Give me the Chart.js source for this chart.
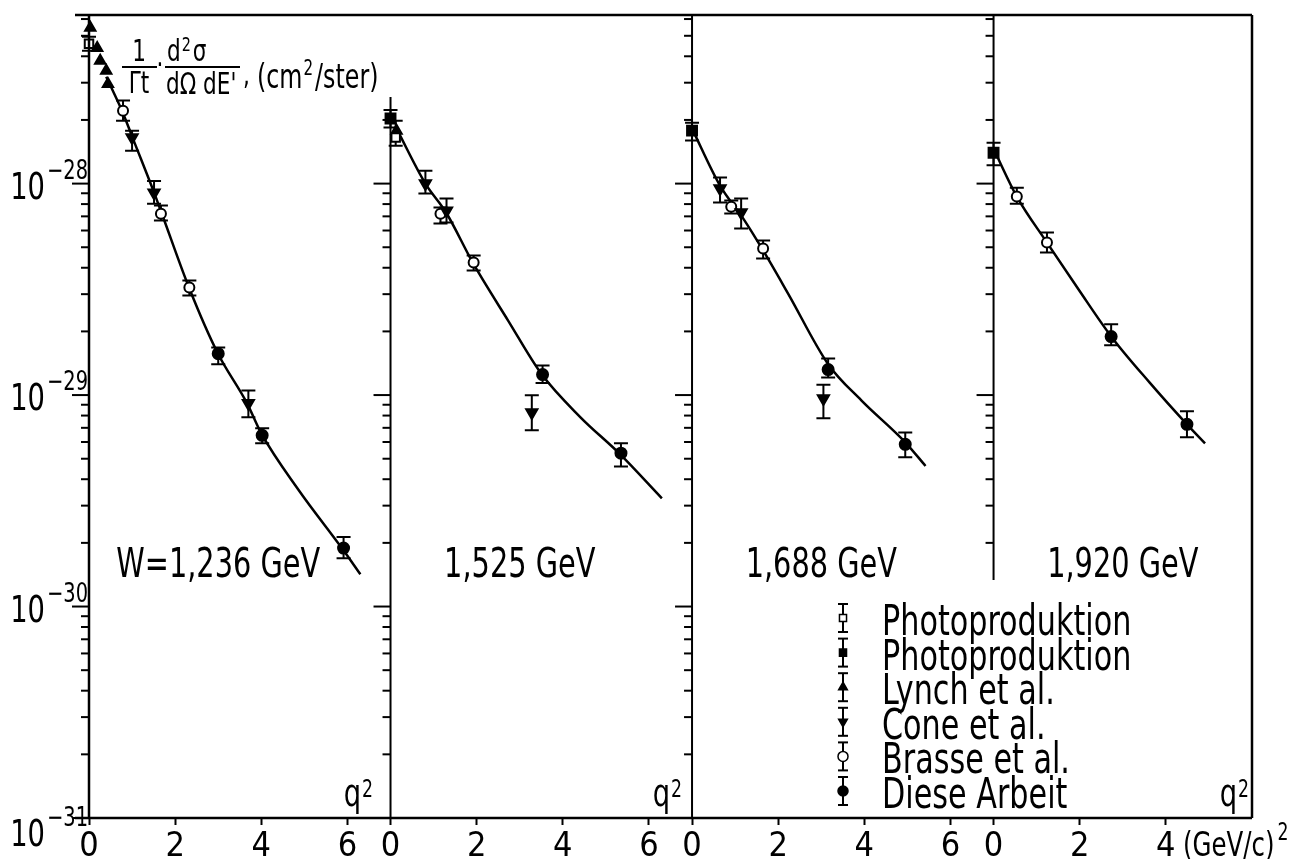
<!DOCTYPE html>
<html>
<head>
<meta charset="utf-8">
<script src="https://cdn.jsdelivr.net/npm/chart.js@4.4.1/dist/chart.umd.min.js"></script>
<style>
  html, body { margin: 0; padding: 0; background: #fff; }
  #wrap { width: 1300px; height: 859px; }
</style>
</head>
<body>
<div id="wrap"><canvas id="chart" width="1300" height="859"></canvas></div>
<script>
// ---- data ---------------------------------------------------------------
var panelLabels = ['W=1,236 GeV', '1,525 GeV', '1,688 GeV', '1,920 GeV'];
var panelMaxQ2 = [7, 7, 7, 6];
var xTickStep = 2;
var yMin = 1e-31, yMax = 6.27e-28;
var yLabelExponents = [-28, -29, -30, -31];
var seriesNames = ['Photoproduktion', 'Photoproduktion', 'Lynch et al.', 'Cone et al.', 'Brasse et al.', 'Diese Arbeit'];
var seriesKeys = ['photoOpen', 'photoFilled', 'lynch', 'cone', 'brasse', 'diese'];

// points: [q2, value, errLow, errHigh]
// W = 1,236 GeV
var p1PhotoOpen = [[0.0, 4.58e-28, 4.25e-28, 4.95e-28]];
var p1Lynch = [[0.03, 5.46e-28], [0.19, 4.38e-28], [0.26, 3.81e-28], [0.40, 3.42e-28], [0.44, 2.96e-28]];
var p1Cone = [[1.0, 1.65e-28, 1.43e-28, 1.78e-28], [1.51, 9.06e-29, 8.04e-29, 1.03e-28], [3.70, 9.14e-30, 7.85e-30, 1.05e-29]];
var p1Brasse = [[0.79, 2.21e-28, 1.98e-28, 2.47e-28], [1.67, 7.21e-29, 6.69e-29, 7.87e-29], [2.33, 3.23e-29, 2.96e-29, 3.48e-29]];
var p1Diese = [[3.0, 1.57e-29, 1.40e-29, 1.68e-29], [4.02, 6.45e-30, 5.91e-30, 6.96e-30], [5.91, 1.89e-30, 1.69e-30, 2.13e-30]];
var p1Fit = [[0.40, 3.2e-28], [0.785, 2.165e-28], [1.02, 1.632e-28], [1.52, 8.97e-29], [1.69, 7.22e-29], [2.33, 3.19e-29],
             [2.98, 1.59e-29], [3.67, 9.14e-30], [4.0, 6.59e-30], [4.87, 3.55e-30], [5.87, 1.89e-30], [6.30, 1.42e-30]];

// W = 1,525 GeV
var p2PhotoOpen = [[0.12, 1.65e-28, 1.51e-28, 1.98e-28]];
var p2PhotoFilled = [[0.0, 2.03e-28, 1.84e-28, 2.23e-28]];
var p2Lynch = [[0.14, 1.78e-28]];
var p2Cone = [[0.81, 1.0e-28, 8.97e-29, 1.15e-28], [1.30, 7.45e-29, 6.54e-29, 8.50e-29], [3.28, 8.28e-30, 6.81e-30, 9.97e-30]];
var p2Brasse = [[1.16, 7.21e-29, 6.47e-29, 7.70e-29], [1.93, 4.24e-29, 3.88e-29, 4.57e-29]];
var p2Diese = [[3.53, 1.25e-29, 1.14e-29, 1.38e-29], [5.35, 5.31e-30, 4.60e-30, 5.91e-30]];
var p2Fit = [[0.14, 1.82e-28], [0.81, 1.0e-28], [1.29, 7.30e-29], [1.92, 4.19e-29], [2.73, 2.25e-29], [3.51, 1.253e-29],
             [4.41, 7.85e-30], [5.31, 5.30e-30], [6.30, 3.25e-30]];

// W = 1,688 GeV
var p3PhotoFilled = [[0.0, 1.78e-28, 1.60e-28, 1.94e-28]];
var p3Cone = [[0.65, 9.47e-29, 8.13e-29, 1.07e-28], [1.14, 7.30e-29, 6.13e-29, 8.50e-29], [3.05, 9.64e-30, 7.76e-30, 1.12e-29]];
var p3Brasse = [[0.91, 7.78e-29, 7.22e-29, 8.31e-29], [1.65, 4.93e-29, 4.42e-29, 5.38e-29]];
var p3Diese = [[3.16, 1.32e-29, 1.21e-29, 1.49e-29], [4.95, 5.85e-30, 5.08e-30, 6.66e-30]];
var p3Fit = [[0.0, 1.82e-28], [0.65, 9.78e-29], [1.19, 6.83e-29], [1.65, 4.83e-29], [2.23, 3.02e-29], [3.16, 1.40e-29],
             [3.93, 9.44e-30], [4.95, 5.98e-30], [5.42, 4.62e-30]];

// W = 1,920 GeV
var p4PhotoFilled = [[0.0, 1.40e-28, 1.22e-28, 1.56e-28]];
var p4Brasse = [[0.54, 8.69e-29, 8.04e-29, 9.57e-29], [1.24, 5.26e-29, 4.72e-29, 5.87e-29]];
var p4Diese = [[2.73, 1.89e-29, 1.72e-29, 2.16e-29], [4.49, 7.27e-30, 6.31e-30, 8.38e-30]];
var p4Fit = [[0.0, 1.46e-28], [0.54, 8.68e-29], [1.24, 5.26e-29], [1.99, 3.12e-29], [2.73, 1.894e-29], [3.62, 1.148e-29],
             [4.49, 7.27e-30], [4.91, 5.91e-30]];

// ---- styles -------------------------------------------------------------
var FONT = '"Liberation Sans Narrow", "DejaVu Sans Condensed", "Arial Narrow", sans-serif';
var SQUEEZE = 0.8;   // the original lettering is a narrow DIN face
var markers = {
  photoOpen:   { pointStyle: 'rect',     rotation: 0,   radius: 6,   fill: '#fff' },
  photoFilled: { pointStyle: 'rect',     rotation: 0,   radius: 7,   fill: '#000' },
  lynch:       { pointStyle: 'triangle', rotation: 0,   radius: 6,   fill: '#000' },
  cone:        { pointStyle: 'triangle', rotation: 180, radius: 6.5, fill: '#000' },
  brasse:      { pointStyle: 'circle',   rotation: 0,   radius: 5,   fill: '#fff' },
  diese:       { pointStyle: 'circle',   rotation: 0,   radius: 5.5, fill: '#000' }
};

var panels = [
  { fit: p1Fit, series: { photoOpen: p1PhotoOpen, lynch: p1Lynch, cone: p1Cone, brasse: p1Brasse, diese: p1Diese } },
  { fit: p2Fit, series: { photoOpen: p2PhotoOpen, photoFilled: p2PhotoFilled, lynch: p2Lynch, cone: p2Cone, brasse: p2Brasse, diese: p2Diese } },
  { fit: p3Fit, series: { photoFilled: p3PhotoFilled, cone: p3Cone, brasse: p3Brasse, diese: p3Diese } },
  { fit: p4Fit, series: { photoFilled: p4PhotoFilled, brasse: p4Brasse, diese: p4Diese } }
];

function toPoints(arr) {
  return arr.map(function (p) { return { x: p[0], y: p[1], lo: p[2], hi: p[3] }; });
}

var datasets = [];
panels.forEach(function (panel, i) {
  var axis = 'x' + (i + 1);
  datasets.push({
    label: 'fit ' + panelLabels[i],
    xAxisID: axis, yAxisID: 'y',
    data: toPoints(panel.fit),
    showLine: true, pointRadius: 0, borderColor: '#000', borderWidth: 2.5,
    cubicInterpolationMode: 'monotone', order: 10
  });
  seriesKeys.forEach(function (key) {
    if (!panel.series[key]) return;
    var m = markers[key];
    datasets.push({
      label: key,
      xAxisID: axis, yAxisID: 'y',
      data: toPoints(panel.series[key]),
      errorBars: true, clip: false,
      pointStyle: m.pointStyle, rotation: m.rotation, pointRadius: m.radius,
      backgroundColor: m.fill, borderColor: '#000', borderWidth: 2,
      order: 0
    });
  });
});

function xAxis(i) {
  return {
    type: 'linear', position: 'bottom', stack: 'q2', stackWeight: panelMaxQ2[i],
    min: 0, max: panelMaxQ2[i],
    grid: { drawOnChartArea: false, drawTicks: true, tickLength: 7, tickColor: '#000', tickWidth: 2 },
    border: { display: false },
    ticks: { stepSize: xTickStep, includeBounds: false, autoSkip: false, maxRotation: 0,
             color: '#000', padding: 2, font: { family: FONT, size: 34 } },
    afterBuildTicks: function (s) { s.ticks = s.ticks.filter(function (t) { return t.value < s.max; }); },
    afterFit: function (s) { s.height = 41; }
  };
}

// ---- plugins ------------------------------------------------------------
var errorBarPlugin = {
  id: 'errorBars',
  beforeDatasetsDraw: function (chart) {
    var ctx = chart.ctx, y = chart.scales.y;
    ctx.save();
    ctx.strokeStyle = '#000';
    ctx.lineWidth = 2;
    chart.data.datasets.forEach(function (ds, i) {
      if (!ds.errorBars) return;
      chart.getDatasetMeta(i).data.forEach(function (el, j) {
        var d = ds.data[j];
        if (d.lo == null) return;
        var y1 = y.getPixelForValue(d.lo), y2 = y.getPixelForValue(d.hi);
        ctx.beginPath();
        ctx.moveTo(el.x, y1); ctx.lineTo(el.x, y2);
        ctx.moveTo(el.x - 7, y1); ctx.lineTo(el.x + 7, y1);
        ctx.moveTo(el.x - 7, y2); ctx.lineTo(el.x + 7, y2);
        ctx.stroke();
      });
    });
    ctx.restore();
  }
};

// draws squeezed text, returns its drawn width
function text(ctx, str, x, y, size, align) {
  ctx.save();
  ctx.font = size + 'px ' + FONT;
  ctx.textAlign = align || 'left';
  ctx.textBaseline = 'alphabetic';
  ctx.translate(x, y);
  ctx.scale(SQUEEZE, 1);
  ctx.fillText(str, 0, 0);
  var w = ctx.measureText(str).width * SQUEEZE;
  ctx.restore();
  return w;
}

function seg(ctx, x1, y1, x2, y2) {
  ctx.beginPath(); ctx.moveTo(x1, y1); ctx.lineTo(x2, y2); ctx.stroke();
}

var decorPlugin = {
  id: 'decor',
  afterDraw: function (chart) {
    var ctx = chart.ctx, ca = chart.chartArea, y = chart.scales.y;
    var xs = [chart.scales.x1, chart.scales.x2, chart.scales.x3, chart.scales.x4];
    ctx.save();
    ctx.strokeStyle = '#000';
    ctx.fillStyle = '#000';
    ctx.lineCap = 'butt';

    // frame and panel axes
    ctx.lineWidth = 2.5;
    seg(ctx, 75, ca.top, ca.right, ca.top);
    seg(ctx, ca.right, ca.top, ca.right, ca.bottom);
    seg(ctx, 75, ca.bottom, ca.right, ca.bottom);
    seg(ctx, xs[0].left, ca.top, xs[0].left, ca.bottom);
    var axisTop = [ca.top, 97, ca.top, ca.top];
    var axisBottom = [ca.bottom, ca.bottom, ca.bottom, 580];
    ctx.lineWidth = 2;
    for (var k = 1; k < 4; k++) seg(ctx, xs[k].left, axisTop[k], xs[k].left, axisBottom[k]);

    // log ticks on every panel axis
    var e0 = Math.floor(Math.log10(y.min)), e1 = Math.ceil(Math.log10(y.max));
    for (k = 0; k < 4; k++) {
      for (var e = e0; e <= e1; e++) {
        for (var m = 1; m <= 9; m++) {
          var v = m * Math.pow(10, e);
          if (v < y.min * 0.999 || v > y.max) continue;
          var py = y.getPixelForValue(v);
          if (py < axisTop[k] || py > axisBottom[k]) continue;
          var len = m === 1 ? 17 : 8;
          seg(ctx, xs[k].left - len, py, xs[k].left, py);
        }
      }
    }

    // decade labels
    yLabelExponents.forEach(function (ex) {
      var py = y.getPixelForValue(Math.pow(10, ex));
      var base = ex === -31 ? py + 28 : py + 15;
      text(ctx, '10', 45, base, 38, 'right');
      text(ctx, '\u2212' + (-ex), 47, base - 20, 27, 'left');
    });

    // panel labels
    panelLabels.forEach(function (lab, i) {
      text(ctx, lab, xs[i].getPixelForValue(3), 577, 40, 'center');
    });

    // q^2 labels
    [[0, 373], [1, 682], [3, 1249]].forEach(function (p) {
      var w2 = text(ctx, '2', p[1], 797, 24, 'right');
      text(ctx, 'q', p[1] - w2 - 1, 806, 38, 'right');
    });
    var wq = text(ctx, '(GeV/c)', 1183, 856, 34, 'left');
    text(ctx, '2', 1183 + wq + 3, 840, 24, 'left');

    // axis title  1/Γt · d²σ/dΩdE' (cm²/ster)
    ctx.lineWidth = 2;
    text(ctx, '1', 139, 61, 30, 'center');
    seg(ctx, 122, 67, 157, 67);
    text(ctx, '\u0393t', 139, 93, 30, 'center');
    text(ctx, '\u00b7', 160, 75, 30, 'center');
    var wd = text(ctx, 'd', 167, 61, 30, 'left');
    var w2s = text(ctx, '2', 167 + wd + 1, 51, 20, 'left');
    text(ctx, '\u03c3', 167 + wd + w2s + 3, 61, 30, 'left');
    seg(ctx, 165, 67, 240, 67);
    text(ctx, 'd\u03a9 dE\'', 166, 94, 30, 'left');
    text(ctx, ',', 243, 84, 30, 'left');
    var wc = text(ctx, '(cm', 257, 88, 33, 'left');
    var ws = text(ctx, '2', 257 + wc + 1, 75, 21, 'left');
    text(ctx, '/ster)', 257 + wc + ws + 3, 88, 33, 'left');

    // legend
    var lx = 843, tx = 882, ly0 = 618, step = 34.6;
    seriesKeys.forEach(function (key, i) {
      var cy = ly0 + i * step, mk = markers[key];
      ctx.lineWidth = 2;
      ctx.strokeStyle = '#000';
      seg(ctx, lx, cy - 14, lx, cy + 14);
      seg(ctx, lx - 5, cy - 14, lx + 5, cy - 14);
      seg(ctx, lx - 5, cy + 14, lx + 5, cy + 14);
      ctx.fillStyle = mk.fill;
      ctx.lineWidth = 1.5;
      Chart.helpers.drawPoint(ctx, { pointStyle: mk.pointStyle, rotation: mk.rotation, radius: 5, borderWidth: 1.5 }, lx, cy);
      ctx.fillStyle = '#000';
      text(ctx, seriesNames[i], tx, cy + 17, 42, 'left');
    });
    ctx.restore();
  }
};

// ---- chart --------------------------------------------------------------
new Chart(document.getElementById('chart').getContext('2d'), {
  type: 'scatter',
  data: { datasets: datasets },
  options: {
    responsive: false,
    animation: false,
    devicePixelRatio: 1,
    layout: { padding: { left: 89, top: 15, right: 48, bottom: 0 } },
    plugins: { legend: { display: false }, tooltip: { enabled: false } },
    scales: {
      x1: xAxis(0), x2: xAxis(1), x3: xAxis(2), x4: xAxis(3),
      y: { type: 'logarithmic', min: yMin, max: yMax, display: false }
    }
  },
  plugins: [errorBarPlugin, decorPlugin]
});
</script>
</body>
</html>
